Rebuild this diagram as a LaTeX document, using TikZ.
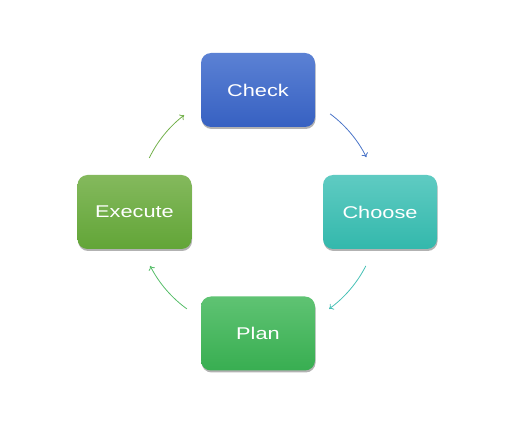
\documentclass[tikz,border=0pt]{standalone}
\usepackage{fontspec}
\newfontfamily\boxfont[FakeStretch=1.28]{Liberation Sans}
\usetikzlibrary{arrows.meta,shadows}

\definecolor{checktop}{HTML}{5B81D4}
\definecolor{checkbot}{HTML}{3761C2}
\definecolor{choosetop}{HTML}{5FCBC2}
\definecolor{choosebot}{HTML}{33B8AC}
\definecolor{plantop}{HTML}{5FC373}
\definecolor{planbot}{HTML}{38AE51}
\definecolor{exectop}{HTML}{84B95D}
\definecolor{execbot}{HTML}{62A537}
\definecolor{arrowblue}{HTML}{4A74C8}
\definecolor{arrowteal}{HTML}{45C0B5}
\definecolor{arrowgreen}{HTML}{55BD68}
\definecolor{arrowolive}{HTML}{72B04A}

\begin{document}
\begin{tikzpicture}[x=1pt, y=1pt,
        stepbox/.style={rounded corners=10pt, minimum width=114pt, minimum height=74pt,
            text=white, inner sep=0pt,
            font=\boxfont\fontsize{17}{20}\selectfont,
            drop shadow={shadow xshift=0.6pt, shadow yshift=-2pt, opacity=0.3, fill=black}},
        flow/.style={line width=0.8pt, -{To[length=4pt, width=7pt]}}]
        \useasboundingbox (0,0) rectangle (531,421);

        % --- 1. The four steps ---
        \node[stepbox, top color=checktop, bottom color=checkbot] (check) at (258,331) {Check};
        \node[stepbox, top color=choosetop, bottom color=choosebot] (choose) at (380,209) {Choose};
        \node[stepbox, top color=plantop, bottom color=planbot] (plan) at (258,87.5) {Plan};
        \node[stepbox, top color=exectop, bottom color=execbot] (execute) at (134.5,209) {Execute};

        % --- 2. Cycle arrows (clockwise round the hub) ---
        \coordinate (hub) at (258,210);
        \foreach \from/\to/\col in {53.4/26.4/arrowblue, -27/-54/arrowteal,
                                    -126/-153/arrowgreen, 154/127.6/arrowolive} {
            \draw[flow, \col] (hub) ++(\from:121pt)
                arc[start angle=\from, end angle=\to, radius=121pt];
        }
\end{tikzpicture}
\end{document}
